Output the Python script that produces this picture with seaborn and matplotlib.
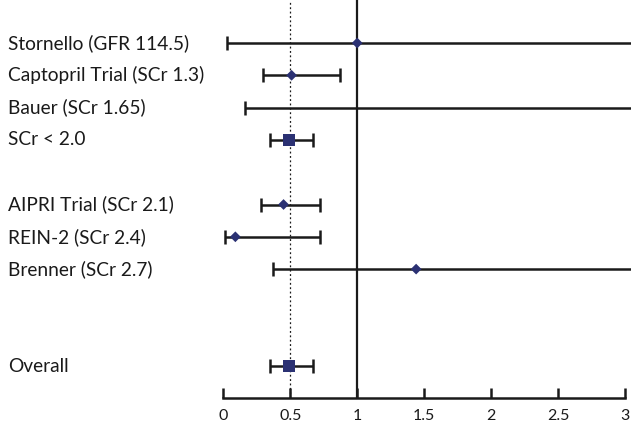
import matplotlib
matplotlib.use("Agg")
import matplotlib.pyplot as plt
import matplotlib.transforms as mtransforms
import numpy as np
import pandas as pd
import seaborn as sns

# study rows (row index keeps the gaps between groups)
labels = ["Stornello (GFR 114.5)", "Captopril Trial (SCr 1.3)", "Bauer (SCr 1.65)", "SCr < 2.0",
          "AIPRI Trial (SCr 2.1)", "REIN-2 (SCr 2.4)", "Brenner (SCr 2.7)", "Overall"]
rows = [0, 1, 2, 3, 5, 6, 7, 10]
estimate = [1.0, 0.51, np.nan, 0.49, 0.45, 0.09, 1.44, 0.49]
lower = [0.03, 0.30, 0.16, 0.35, 0.28, 0.01, 0.37, 0.35]
upper = [4.0, 0.87, 4.0, 0.67, 0.72, 0.72, 4.0, 0.67]
kind = ["study", "study", "study", "pooled", "study", "study", "study", "pooled"]

df = pd.DataFrame({"label": labels, "row": rows, "est": estimate,
                   "lo": lower, "hi": upper, "kind": kind})

sns.set_style("white")
plt.rcParams["font.family"] = ["Lato", "DejaVu Sans"]

fig = plt.figure(figsize=(6.31, 4.28), dpi=100)
ax = fig.add_axes([223.3 / 631, 1 - 398 / 428, 1 - 223.3 / 631, 398 / 428])

# reference lines
ax.axvline(1, color="#1a1a1a", lw=1.6, zorder=1)
ax.axvline(0.5, color="#1a1a1a", lw=0.9, ls=(0, (1.5, 2)), zorder=1)

# confidence intervals
mid = (df["lo"] + df["hi"]) / 2
ax.errorbar(mid, df["row"], xerr=(df["hi"] - df["lo"]) / 2, fmt="none",
            ecolor="#1a1a1a", elinewidth=1.8, capsize=4.8, capthick=1.8, zorder=2)

# point estimates
sns.scatterplot(data=df[df["kind"] == "study"], x="est", y="row", marker="D", s=30,
                color="#2b3173", edgecolor="none", ax=ax, zorder=3, legend=False)
sns.scatterplot(data=df[df["kind"] == "pooled"], x="est", y="row", marker="s", s=80,
                color="#2b3173", edgecolor="none", ax=ax, zorder=3, legend=False)

ax.set_xlim(0, (631 - 223.3) / 133.9)
ax.set_ylim(10 + 32 / 32.3, -43 / 32.3)

for s in ["top", "right", "left"]:
    ax.spines[s].set_visible(False)
ax.spines["bottom"].set_bounds(0, 3)
ax.spines["bottom"].set_linewidth(1.8)
ax.spines["bottom"].set_color("#1a1a1a")

ax.set_xticks([0, 0.5, 1, 1.5, 2, 2.5, 3])
ax.set_xticklabels(["0", "0.5", "1", "1.5", "2", "2.5", "3"])
ax.tick_params(axis="x", direction="in", length=7, width=1.8, color="#1a1a1a",
               labelsize=11.5, pad=8, labelcolor="#1a1a1a", bottom=True)
ax.set_yticks([])
ax.set_xlabel("")
ax.set_ylabel("")

# study labels at the left edge of the figure
trans = mtransforms.blended_transform_factory(fig.transFigure, ax.transData)
for lab, r in zip(df["label"], df["row"]):
    ax.text(8 / 631, r, lab, transform=trans, ha="left", va="center",
            fontsize=13.8, color="#1a1a1a", clip_on=False)

fig.savefig("out.png", dpi=100)
